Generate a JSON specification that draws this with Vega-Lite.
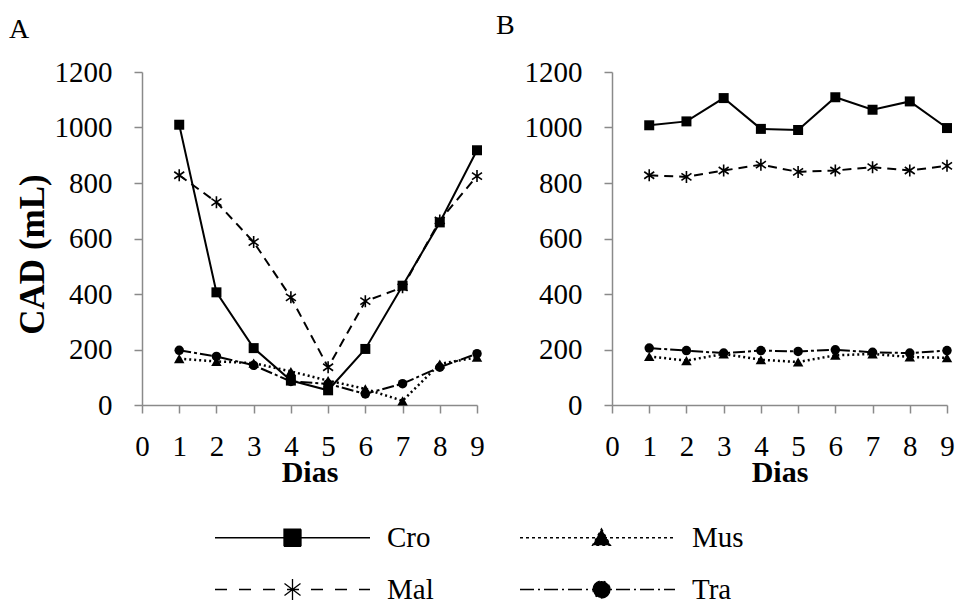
{
  "$schema": "https://vega.github.io/schema/vega-lite/v6.json",
  "background": "white",
  "padding": {"left": 9, "top": 12, "right": 5, "bottom": 5},
  "config": {
    "view": {"stroke": null},
    "font": "Liberation Serif",
    "axis": {"grid": false, "domainColor": "#8a8a8a", "tickColor": "#8a8a8a", "domainWidth": 1.5, "tickWidth": 1.5, "tickSize": 8, "labelFont": "Liberation Serif", "labelFontSize": 29, "labelColor": "black", "labelFlush": false, "titleFont": "Liberation Serif", "titleFontSize": 30, "titleFontWeight": "bold", "titleColor": "black"},
    "legend": {"labelFont": "Liberation Serif", "labelFontSize": 29, "labelColor": "black"},
    "title": {"font": "Liberation Serif", "fontSize": 28, "fontWeight": "normal", "color": "black", "anchor": "start", "frame": "group", "baseline": "alphabetic", "offset": 0}
  },
  "data": {"values": [
    {"panel": "A", "series": "Cro", "day": 1, "value": 1010},
    {"panel": "A", "series": "Cro", "day": 2, "value": 406},
    {"panel": "A", "series": "Cro", "day": 3, "value": 205},
    {"panel": "A", "series": "Cro", "day": 4, "value": 88},
    {"panel": "A", "series": "Cro", "day": 5, "value": 53},
    {"panel": "A", "series": "Cro", "day": 6, "value": 202},
    {"panel": "A", "series": "Cro", "day": 7, "value": 430},
    {"panel": "A", "series": "Cro", "day": 8, "value": 658},
    {"panel": "A", "series": "Cro", "day": 9, "value": 918},
    {"panel": "A", "series": "Mal", "day": 1, "value": 828},
    {"panel": "A", "series": "Mal", "day": 2, "value": 731},
    {"panel": "A", "series": "Mal", "day": 3, "value": 587},
    {"panel": "A", "series": "Mal", "day": 4, "value": 388},
    {"panel": "A", "series": "Mal", "day": 5, "value": 136},
    {"panel": "A", "series": "Mal", "day": 6, "value": 374},
    {"panel": "A", "series": "Mal", "day": 7, "value": 424},
    {"panel": "A", "series": "Mal", "day": 8, "value": 665},
    {"panel": "A", "series": "Mal", "day": 9, "value": 825},
    {"panel": "A", "series": "Tra", "day": 1, "value": 197},
    {"panel": "A", "series": "Tra", "day": 2, "value": 175},
    {"panel": "A", "series": "Tra", "day": 3, "value": 143},
    {"panel": "A", "series": "Tra", "day": 4, "value": 85},
    {"panel": "A", "series": "Tra", "day": 5, "value": 76},
    {"panel": "A", "series": "Tra", "day": 6, "value": 40},
    {"panel": "A", "series": "Tra", "day": 7, "value": 77},
    {"panel": "A", "series": "Tra", "day": 8, "value": 136},
    {"panel": "A", "series": "Tra", "day": 9, "value": 185},
    {"panel": "A", "series": "Mus", "day": 1, "value": 167},
    {"panel": "A", "series": "Mus", "day": 2, "value": 157},
    {"panel": "A", "series": "Mus", "day": 3, "value": 151},
    {"panel": "A", "series": "Mus", "day": 4, "value": 121},
    {"panel": "A", "series": "Mus", "day": 5, "value": 88},
    {"panel": "A", "series": "Mus", "day": 6, "value": 58},
    {"panel": "A", "series": "Mus", "day": 7, "value": 15},
    {"panel": "A", "series": "Mus", "day": 8, "value": 148},
    {"panel": "A", "series": "Mus", "day": 9, "value": 172},
    {"panel": "B", "series": "Cro", "day": 1, "value": 1008},
    {"panel": "B", "series": "Cro", "day": 2, "value": 1022},
    {"panel": "B", "series": "Cro", "day": 3, "value": 1106},
    {"panel": "B", "series": "Cro", "day": 4, "value": 995},
    {"panel": "B", "series": "Cro", "day": 5, "value": 991},
    {"panel": "B", "series": "Cro", "day": 6, "value": 1109},
    {"panel": "B", "series": "Cro", "day": 7, "value": 1064},
    {"panel": "B", "series": "Cro", "day": 8, "value": 1094},
    {"panel": "B", "series": "Cro", "day": 9, "value": 998},
    {"panel": "B", "series": "Mal", "day": 1, "value": 828},
    {"panel": "B", "series": "Mal", "day": 2, "value": 822},
    {"panel": "B", "series": "Mal", "day": 3, "value": 845},
    {"panel": "B", "series": "Mal", "day": 4, "value": 866},
    {"panel": "B", "series": "Mal", "day": 5, "value": 840},
    {"panel": "B", "series": "Mal", "day": 6, "value": 845},
    {"panel": "B", "series": "Mal", "day": 7, "value": 857},
    {"panel": "B", "series": "Mal", "day": 8, "value": 845},
    {"panel": "B", "series": "Mal", "day": 9, "value": 862},
    {"panel": "B", "series": "Tra", "day": 1, "value": 205},
    {"panel": "B", "series": "Tra", "day": 2, "value": 196},
    {"panel": "B", "series": "Tra", "day": 3, "value": 187},
    {"panel": "B", "series": "Tra", "day": 4, "value": 196},
    {"panel": "B", "series": "Tra", "day": 5, "value": 193},
    {"panel": "B", "series": "Tra", "day": 6, "value": 199},
    {"panel": "B", "series": "Tra", "day": 7, "value": 190},
    {"panel": "B", "series": "Tra", "day": 8, "value": 187},
    {"panel": "B", "series": "Tra", "day": 9, "value": 196},
    {"panel": "B", "series": "Mus", "day": 1, "value": 175},
    {"panel": "B", "series": "Mus", "day": 2, "value": 160},
    {"panel": "B", "series": "Mus", "day": 3, "value": 184},
    {"panel": "B", "series": "Mus", "day": 4, "value": 163},
    {"panel": "B", "series": "Mus", "day": 5, "value": 155},
    {"panel": "B", "series": "Mus", "day": 6, "value": 179},
    {"panel": "B", "series": "Mus", "day": 7, "value": 184},
    {"panel": "B", "series": "Mus", "day": 8, "value": 173},
    {"panel": "B", "series": "Mus", "day": 9, "value": 170}
  ]},
  "spacing": 10,
  "resolve": {"scale": {"shape": "shared", "strokeDash": "shared"}, "legend": {"shape": "shared", "strokeDash": "shared"}},
  "hconcat": [
    {
      "width": 335,
      "height": 333,
      "title": {"text": "A", "dx": -133, "dy": -10},
      "transform": [{"filter": "datum.panel === 'A'"}],
      "encoding": {
        "x": {"field": "day", "type": "quantitative", "scale": {"domain": [0, 9], "nice": false}, "axis": {"values": [0, 1, 2, 3, 4, 5, 6, 7, 8, 9], "labelAngle": 0, "labelPadding": 19, "title": "Dias", "titleX": 167.5, "titleY": 76, "titleAlign": "center", "titleBaseline": "alphabetic"}},
        "y": {"field": "value", "type": "quantitative", "scale": {"domain": [0, 1200], "nice": false}, "axis": {"values": [0, 200, 400, 600, 800, 1000, 1200], "format": "d", "labelPadding": 22, "title": "CAD (mL)", "titleFontSize": 35, "titleX": -99, "titleY": 182, "titleAlign": "center", "titleBaseline": "alphabetic"}}
      },
      "layer": [
        {"transform": [{"filter": "datum.series === 'Cro'"}], "mark": {"type": "line", "stroke": "black", "strokeWidth": 2}},
        {"transform": [{"filter": "datum.series === 'Mus'"}], "mark": {"type": "line", "stroke": "black", "strokeWidth": 2.5, "strokeDash": [2, 3]}},
        {"transform": [{"filter": "datum.series === 'Mal'"}], "mark": {"type": "line", "stroke": "black", "strokeWidth": 2, "strokeDash": [9, 6]}},
        {"transform": [{"filter": "datum.series === 'Tra'"}], "mark": {"type": "line", "stroke": "black", "strokeWidth": 2, "strokeDash": [12, 3, 3, 3]}},
        {"transform": [{"filter": "datum.series === 'Cro'"}], "mark": {"type": "point", "shape": "square", "filled": true, "fill": "black", "size": 100, "opacity": 1}},
        {"transform": [{"filter": "datum.series === 'Mus'"}], "mark": {"type": "point", "shape": "triangle-up", "filled": true, "fill": "black", "size": 110, "opacity": 1}},
        {"transform": [{"filter": "datum.series === 'Mal'"}], "mark": {"type": "point", "shape": "M0,-1.2V1.2M-1,-0.7L1,0.7M-1,0.7L1,-0.7", "filled": false, "stroke": "black", "strokeWidth": 1.6, "size": 100, "opacity": 1}},
        {"transform": [{"filter": "datum.series === 'Tra'"}], "mark": {"type": "point", "shape": "circle", "filled": true, "fill": "black", "size": 90, "opacity": 1}},
        {
          "transform": [{"filter": "false"}],
          "mark": {"type": "point", "filled": true, "fill": "black", "stroke": "black", "strokeWidth": 1.3, "opacity": 1},
          "encoding": {
            "shape": {"field": "series", "type": "nominal", "scale": {"domain": ["Cro", "Mus", "Mal", "Tra"], "range": [
              "M-7.75,0H7.75M-0.85,-0.85H0.85V0.85H-0.85Z",
              "M-7.75,0H7.75M0.4,-0.9L1.3,0.75H-0.5Z",
              "M-7.75,0H7.75M0,0V-1.05M0,0V1.05M0,0L0.8,-0.6M0,0L-0.8,-0.6M0,0L0.8,0.6M0,0L-0.8,0.6",
              "M-7.75,0H7.75M1.25,0A0.85,0.85 0 1 1 -0.45,0A0.85,0.85 0 1 1 1.25,0Z"
            ]}, "legend": {"title": null, "values": ["Cro", "Mal", "Mus", "Tra"], "orient": "none", "legendX": 136, "legendY": 451, "columns": 2, "symbolSize": 400, "labelOffset": 80, "columnPadding": 83, "rowPadding": 22, "padding": 0, "labelFont": "Liberation Serif", "labelFontSize": 29, "labelColor": "black", "labelLimit": 0, "symbolStrokeWidth": 1.3, "symbolOpacity": 1}},
            "strokeDash": {"field": "series", "type": "nominal", "scale": {"domain": ["Cro", "Mus", "Mal", "Tra"], "range": [[1, 0], [3, 3], [12, 12], [14, 4, 2, 4]]}, "legend": {"title": null, "values": ["Cro", "Mal", "Mus", "Tra"], "orient": "none", "legendX": 136, "legendY": 451, "columns": 2, "symbolSize": 400, "labelOffset": 80, "columnPadding": 83, "rowPadding": 22, "padding": 0, "labelFont": "Liberation Serif", "labelFontSize": 29, "labelColor": "black", "labelLimit": 0, "symbolStrokeWidth": 1.3, "symbolOpacity": 1}}
          }
        }
      ]
    },
    {
      "width": 335,
      "height": 333,
      "title": {"text": "B", "dx": -116, "dy": -14},
      "transform": [{"filter": "datum.panel === 'B'"}],
      "encoding": {
        "x": {"field": "day", "type": "quantitative", "scale": {"domain": [0, 9], "nice": false}, "axis": {"values": [0, 1, 2, 3, 4, 5, 6, 7, 8, 9], "labelAngle": 0, "labelPadding": 19, "title": "Dias", "titleX": 167.5, "titleY": 76, "titleAlign": "center", "titleBaseline": "alphabetic"}},
        "y": {"field": "value", "type": "quantitative", "scale": {"domain": [0, 1200], "nice": false}, "axis": {"values": [0, 200, 400, 600, 800, 1000, 1200], "format": "d", "labelPadding": 22, "title": null}}
      },
      "layer": [
        {"transform": [{"filter": "datum.series === 'Cro'"}], "mark": {"type": "line", "stroke": "black", "strokeWidth": 2}},
        {"transform": [{"filter": "datum.series === 'Mus'"}], "mark": {"type": "line", "stroke": "black", "strokeWidth": 2.5, "strokeDash": [2, 3]}},
        {"transform": [{"filter": "datum.series === 'Mal'"}], "mark": {"type": "line", "stroke": "black", "strokeWidth": 2, "strokeDash": [9, 6]}},
        {"transform": [{"filter": "datum.series === 'Tra'"}], "mark": {"type": "line", "stroke": "black", "strokeWidth": 2, "strokeDash": [12, 3, 3, 3]}},
        {"transform": [{"filter": "datum.series === 'Cro'"}], "mark": {"type": "point", "shape": "square", "filled": true, "fill": "black", "size": 100, "opacity": 1}},
        {"transform": [{"filter": "datum.series === 'Mus'"}], "mark": {"type": "point", "shape": "triangle-up", "filled": true, "fill": "black", "size": 110, "opacity": 1}},
        {"transform": [{"filter": "datum.series === 'Mal'"}], "mark": {"type": "point", "shape": "M0,-1.2V1.2M-1,-0.7L1,0.7M-1,0.7L1,-0.7", "filled": false, "stroke": "black", "strokeWidth": 1.6, "size": 100, "opacity": 1}},
        {"transform": [{"filter": "datum.series === 'Tra'"}], "mark": {"type": "point", "shape": "circle", "filled": true, "fill": "black", "size": 90, "opacity": 1}}
      ]
    }
  ]
}
